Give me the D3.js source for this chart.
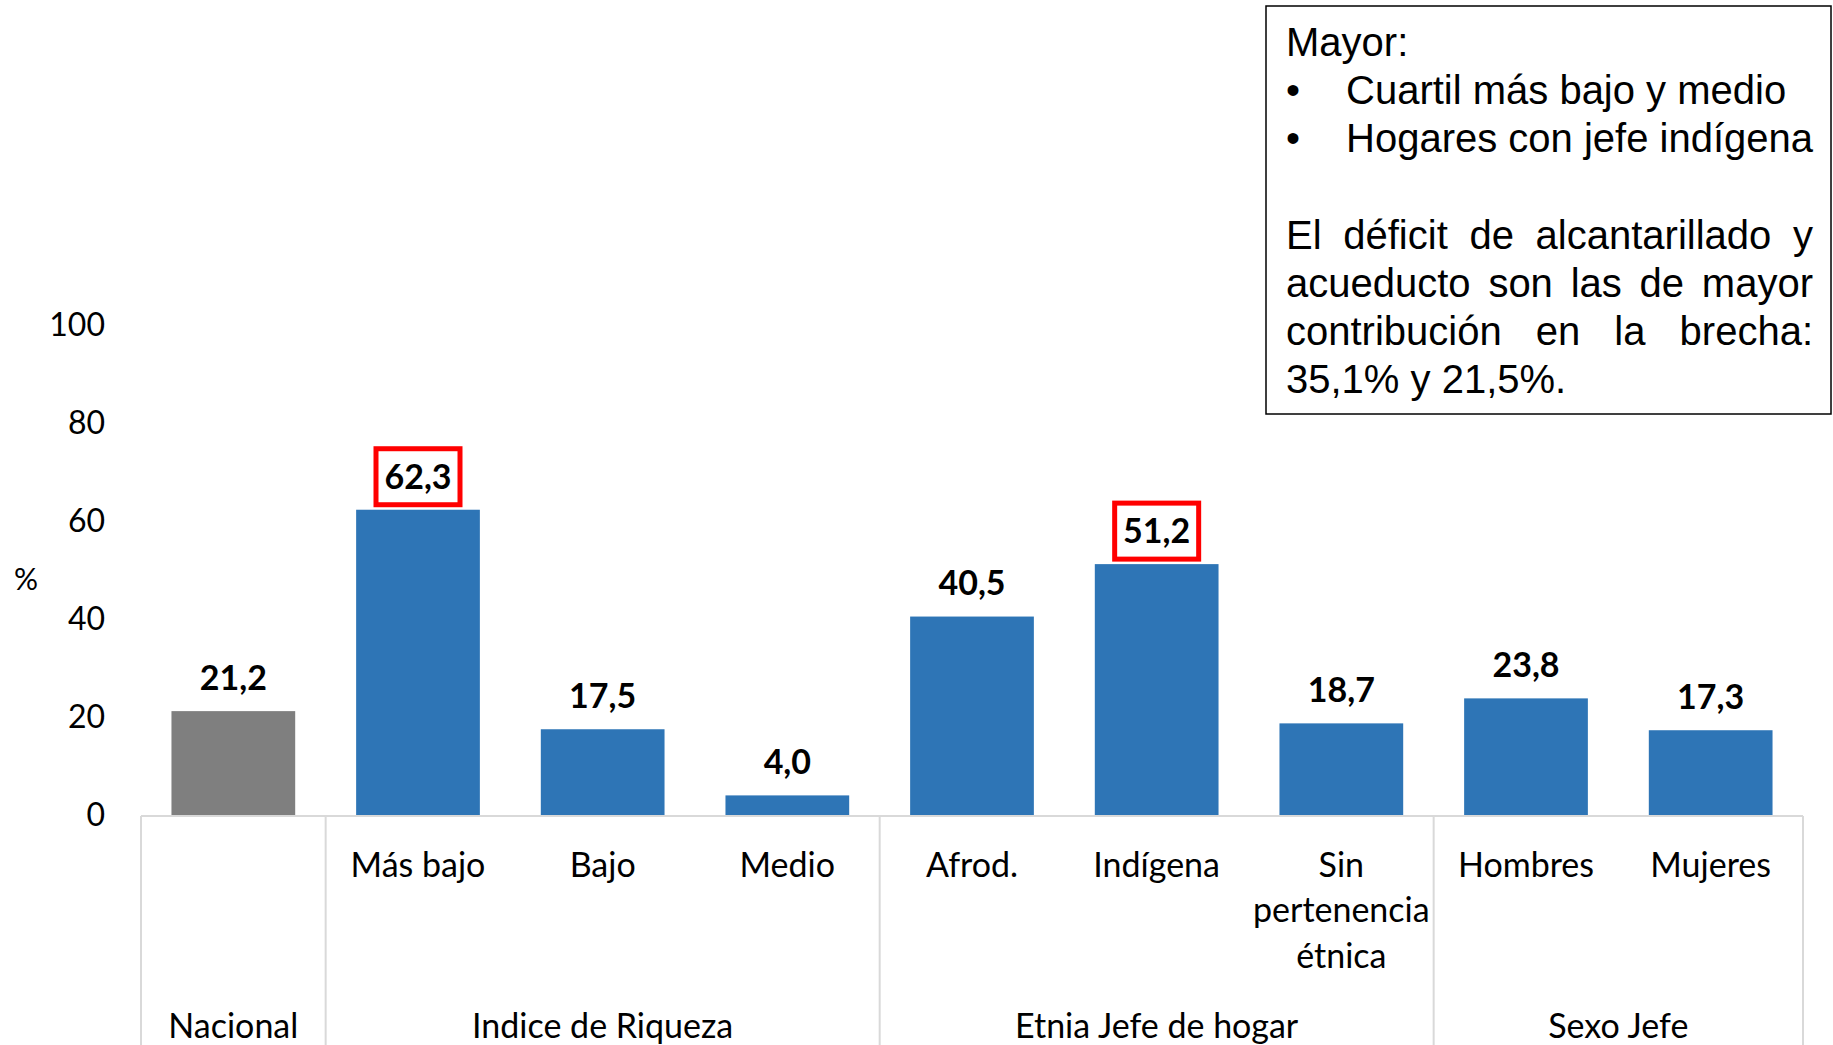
<!DOCTYPE html>
<html>
<head>
<meta charset="utf-8">
<script src="https://cdn.jsdelivr.net/npm/d3@7"></script>
<style>
  body { margin: 0; background: #fff; }
  svg { display: block; }
</style>
</head>
<body>
<svg id="drawing_region"></svg>
<script>
// data
const categories = ["Nacional", "Más bajo", "Bajo", "Medio", "Afrod.", "Indígena", "Sin\npertenencia\nétnica", "Hombres", "Mujeres"];
const values = [21.2, 62.3, 17.5, 4.0, 40.5, 51.2, 18.7, 23.8, 17.3];
const groups = ["Nacional", "Indice de Riqueza", "Etnia Jefe de hogar", "Sexo Jefe"];
const groupSizes = [1, 3, 3, 2];
const highlighted = ["Más bajo", "Indígena"];
const yTicks = [0, 20, 40, 60, 80, 100];
const noteTitle = "Mayor:";
const noteBullets = ["Cuartil más bajo y medio", "Hogares con jefe indígena"];
const noteParagraph = ["El déficit de alcantarillado y", "acueducto son las de mayor", "contribución en la brecha:", "35,1% y 21,5%."];

const W = 1833, H = 1045;
const plot = { left: 141, right: 1803, top: 325, bottom: 815 };
const font = "Lato, 'Open Sans', sans-serif";

const svg = d3.select('#drawing_region')
    .attr('width', W)
    .attr('height', H);

const x = d3.scaleBand()
    .domain(categories)
    .range([plot.left, plot.right])
    .paddingInner(0.33)
    .paddingOuter(0.165);

const y = d3.scaleLinear()
    .domain([0, 100])
    .range([plot.bottom, plot.top]);

const data = categories.map((c, i) => ({ cat: c, value: values[i] }));
const step = x.step();
const slot = i => plot.left + i * step;

// y axis (labels only)
const yAxis = svg.append('g')
    .attr('transform', `translate(${plot.left},0)`)
    .call(d3.axisLeft(y).tickValues(yTicks).tickSize(0).tickPadding(36));
yAxis.select('.domain').remove();
yAxis.selectAll('text')
    .attr('font-family', font)
    .attr('font-size', 32)
    .attr('fill', '#000');

svg.append('text')
    .attr('x', 26).attr('y', 579)
    .attr('dy', '0.35em')
    .attr('text-anchor', 'middle')
    .attr('font-family', font)
    .attr('font-size', 30)
    .text('%');

// bars
svg.selectAll('rect.bar')
    .data(data)
    .enter()
    .append('rect')
    .attr('class', 'bar')
    .attr('x', d => x(d.cat))
    .attr('y', d => y(d.value))
    .attr('width', x.bandwidth())
    .attr('height', d => y(0) - y(d.value))
    .attr('fill', (d, i) => i === 0 ? '#7f7f7f' : '#2e75b6');

// category axis line and group separators
svg.append('line')
    .attr('x1', plot.left).attr('x2', plot.right)
    .attr('y1', plot.bottom + 1).attr('y2', plot.bottom + 1)
    .attr('stroke', '#d9d9d9').attr('stroke-width', 2);

let bounds = [0];
groupSizes.forEach(s => bounds.push(bounds[bounds.length - 1] + s));
svg.selectAll('line.sep')
    .data(bounds)
    .enter()
    .append('line')
    .attr('class', 'sep')
    .attr('x1', d => slot(d)).attr('x2', d => slot(d))
    .attr('y1', plot.bottom + 1).attr('y2', H)
    .attr('stroke', '#d9d9d9').attr('stroke-width', 2);

// category labels
const catLabels = svg.selectAll('text.cat')
    .data(data.filter((d, i) => i > 0))
    .enter()
    .append('text')
    .attr('class', 'cat')
    .attr('text-anchor', 'middle')
    .attr('font-family', font)
    .attr('font-size', 34)
    .attr('fill', '#000');
catLabels.each(function(d) {
    const lines = d.cat.split('\n');
    const cx = x(d.cat) + x.bandwidth() / 2;
    d3.select(this).selectAll('tspan')
        .data(lines)
        .enter()
        .append('tspan')
        .attr('x', cx)
        .attr('y', (l, j) => 865 + j * 45.5)
        .attr('dy', '0.35em')
        .text(l => l);
});

// group labels
svg.selectAll('text.group')
    .data(groups)
    .enter()
    .append('text')
    .attr('class', 'group')
    .attr('x', (g, i) => (slot(bounds[i]) + slot(bounds[i + 1])) / 2)
    .attr('y', 1026)
    .attr('dy', '0.35em')
    .attr('text-anchor', 'middle')
    .attr('font-family', font)
    .attr('font-size', 34)
    .attr('fill', '#000')
    .text(g => g);

// value labels
const fmt = v => v.toFixed(1).replace('.', ',');
svg.selectAll('text.val')
    .data(data)
    .enter()
    .append('text')
    .attr('class', 'val')
    .attr('x', d => x(d.cat) + x.bandwidth() / 2)
    .attr('y', d => y(d.value) - 33)
    .attr('dy', '0.35em')
    .attr('text-anchor', 'middle')
    .attr('font-family', font)
    .attr('font-weight', 'bold')
    .attr('font-size', 34)
    .attr('fill', '#000')
    .text(d => fmt(d.value));

// red boxes around highlighted values
svg.selectAll('rect.hl')
    .data(data.filter(d => highlighted.includes(d.cat)))
    .enter()
    .append('rect')
    .attr('class', 'hl')
    .attr('x', d => x(d.cat) + x.bandwidth() / 2 - 42)
    .attr('y', d => y(d.value) - 61)
    .attr('width', 84)
    .attr('height', 56)
    .attr('fill', 'none')
    .attr('stroke', '#ff0000')
    .attr('stroke-width', 5);

// note box
const note = { x: 1266, y: 6, w: 565, h: 408 };
svg.append('rect')
    .attr('x', note.x).attr('y', note.y)
    .attr('width', note.w).attr('height', note.h)
    .attr('fill', '#fff')
    .attr('stroke', '#000')
    .attr('stroke-width', 1.5);

const noteFont = "'Liberation Sans', Arial, sans-serif";
const nLeft = 1286, nRight = 1813, lh = 48;
const nText = (s, xx, yy) => svg.append('text')
    .attr('x', xx).attr('y', yy)
    .attr('dy', '0.35em')
    .attr('font-family', noteFont)
    .attr('font-size', 40)
    .attr('fill', '#000')
    .text(s);

nText(noteTitle, nLeft, 42);
noteBullets.forEach((b, i) => {
    nText('•', nLeft, 42 + (i + 1) * lh);
    nText(b, 1346, 42 + (i + 1) * lh);
});

// justified paragraph
noteParagraph.forEach((line, i) => {
    const yy = 235 + i * lh;
    if (i === noteParagraph.length - 1) { nText(line, nLeft, yy); return; }
    const words = line.split(' ');
    const nodes = words.map(w => nText(w, 0, yy));
    const widths = nodes.map(n => n.node().getComputedTextLength());
    const gap = (nRight - nLeft - d3.sum(widths)) / (words.length - 1);
    let cx = nLeft;
    nodes.forEach((n, j) => { n.attr('x', cx); cx += widths[j] + gap; });
});
</script>
</body>
</html>
